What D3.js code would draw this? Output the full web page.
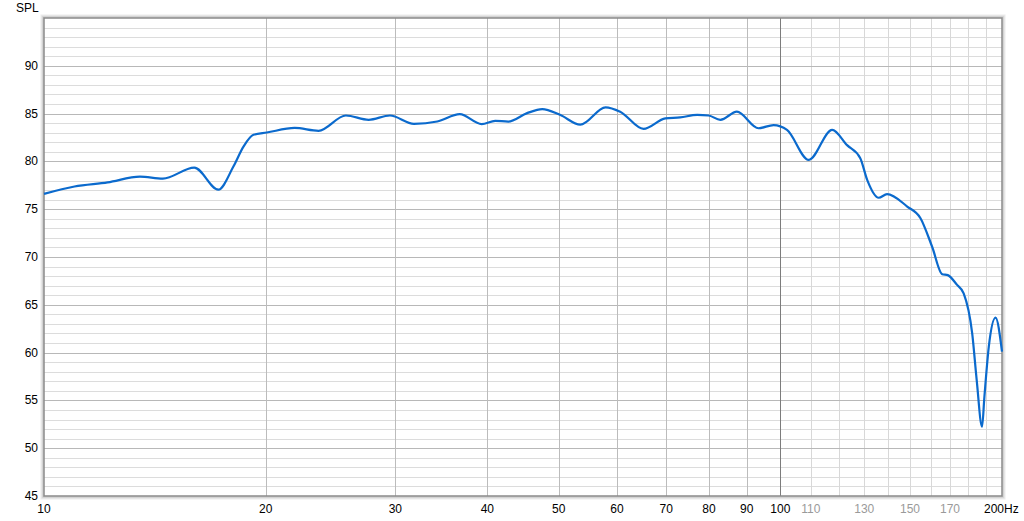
<!DOCTYPE html>
<html>
<head>
<meta charset="utf-8">
<script src="https://cdn.jsdelivr.net/npm/d3@7"></script>
<style>
  body { margin: 0; background: #fff; }
  svg { display: block; font-family: "Liberation Sans", Arial, sans-serif; font-size: 12px; }
</style>
</head>
<body>
<script>
const freq = [10, 11.0, 12.2, 13.5, 14.5, 16.0, 17.25, 18.08, 18.66, 19.25, 20.07, 21.9, 23.6, 25.7, 27.6, 29.5,
  31.8, 34.2, 36.7, 39.3, 41.0, 42.7, 45.3, 47.5, 50.2, 53.5, 57.9, 60.6, 65.2, 69.8, 73.1, 77.1,
  79.9, 82.9, 87.3, 93.4, 97.9, 102.1, 109.3, 117.6, 123.2, 128.4, 131.2, 136.0, 139.6, 148.7,
  155.0, 160.7, 165.9, 168.8, 173.8, 177.4, 182.2, 184.8, 187.9, 189.3, 191.9, 196.0, 200];
const spl = [76.6, 77.37, 77.8, 78.4, 78.2, 79.35, 77.05, 79.46, 81.55, 82.78, 83.02, 83.5, 83.2, 84.8, 84.35, 84.8,
  83.93, 84.17, 84.94, 83.9, 84.24, 84.17, 85.05, 85.47, 84.87, 83.85, 85.66, 85.2, 83.4, 84.5, 84.6, 84.87,
  84.8, 84.35, 85.2, 83.47, 83.8, 83.3, 80.16, 83.3, 81.7, 80.34, 78.07, 76.2, 76.57, 75.28,
  74.06, 71.1, 68.2, 68.1, 67.08, 66.2, 62.0, 57.1, 52.25, 55.4, 60.6, 63.66, 60.1];

const yLabels = [45, 50, 55, 60, 65, 70, 75, 80, 85, 90];
const xGridLow = [10, 20, 30, 40, 50, 60, 70, 80, 90];
const xGridHigh = [110, 120, 130, 140, 150, 160, 170, 180, 190];
const xLabelsDark = [10, 20, 30, 40, 50, 60, 70, 80, 90, 100];
const xLabelsGray = [110, 130, 150, 170];

// constants
const width = 1024;
const height = 521;
const margin = { left: 44, right: 22, top: 18, bottom: 25 };

const x = d3.scaleLog()
    .domain([10, 200])
    .range([margin.left, width - margin.right]);
const y = d3.scaleLinear()
    .domain([45, 95])
    .range([height - margin.bottom, margin.top]);

const svg = d3.select("body").append("svg")
    .attr("width", width)
    .attr("height", height);

const pw = width - margin.left - margin.right;
const ph = height - margin.top - margin.bottom;

// soft shadow round the frame
["#eeeeee", "#dddddd", "#c4c4c4"].forEach((c, i) => {
  const o = 3 - i;
  svg.append("rect")
      .attr("x", margin.left - o).attr("y", margin.top - o)
      .attr("width", pw + 2 * o).attr("height", ph + 2 * o)
      .style("fill", "none").style("stroke", c).style("stroke-width", 1.2);
});
svg.append("rect")
    .attr("x", margin.left).attr("y", margin.top)
    .attr("width", pw).attr("height", ph)
    .style("fill", "#fff");

// horizontal grid, 1 dB minor, 5 dB major
const grid = svg.append("g");
grid.selectAll(".hminor")
    .data(d3.range(46, 95).filter(d => d % 5 !== 0))
    .join("line")
    .attr("x1", margin.left).attr("x2", width - margin.right)
    .attr("y1", d => Math.round(y(d)) + 0.5).attr("y2", d => Math.round(y(d)) + 0.5)
    .style("stroke", "#dcdcdc");
grid.selectAll(".vhigh")
    .data(xGridHigh)
    .join("line")
    .attr("x1", d => Math.round(x(d)) + 0.5).attr("x2", d => Math.round(x(d)) + 0.5)
    .attr("y1", margin.top).attr("y2", height - margin.bottom)
    .style("stroke", "#d8d8d8");
grid.selectAll(".hmajor")
    .data(d3.range(50, 95, 5))
    .join("line")
    .attr("x1", margin.left).attr("x2", width - margin.right)
    .attr("y1", d => Math.round(y(d)) + 0.5).attr("y2", d => Math.round(y(d)) + 0.5)
    .style("stroke", "#b8b8b8");
grid.selectAll(".vlow")
    .data(xGridLow.slice(1))
    .join("line")
    .attr("x1", d => Math.round(x(d)) + 0.5).attr("x2", d => Math.round(x(d)) + 0.5)
    .attr("y1", margin.top).attr("y2", height - margin.bottom)
    .style("stroke", "#bcbcbc");
grid.append("line")
    .attr("x1", Math.round(x(100)) + 0.5).attr("x2", Math.round(x(100)) + 0.5)
    .attr("y1", margin.top).attr("y2", height - margin.bottom)
    .style("stroke", "#7c7c7c");

// frame
svg.append("rect")
    .attr("x", margin.left).attr("y", margin.top)
    .attr("width", pw).attr("height", ph)
    .style("fill", "none").style("stroke", "#8a8a8a").style("stroke-width", 1.5);

// response curve
const line = d3.line()
    .x(d => x(d[0]))
    .y(d => y(d[1]))
    .curve(d3.curveMonotoneX);

svg.append("path")
    .datum(d3.zip(freq, spl))
    .attr("d", line)
    .style("fill", "none")
    .style("stroke", "#0b6acd")
    .style("stroke-width", 2.2)
    .style("stroke-linejoin", "round");

// y labels
svg.selectAll(".ylab")
    .data(yLabels)
    .join("text")
    .attr("x", 38)
    .attr("y", d => y(d) + 4)
    .attr("text-anchor", "end")
    .style("fill", "#000")
    .text(d => d);
svg.append("text")
    .attr("x", 16).attr("y", 12)
    .text("SPL");

// x labels
svg.selectAll(".xlab")
    .data(xLabelsDark)
    .join("text")
    .attr("x", d => x(d))
    .attr("y", 513)
    .attr("text-anchor", "middle")
    .style("fill", "#000")
    .text(d => d);
svg.selectAll(".xlabg")
    .data(xLabelsGray)
    .join("text")
    .attr("x", d => x(d))
    .attr("y", 513)
    .attr("text-anchor", "middle")
    .style("fill", "#9a9a9a")
    .text(d => d);
svg.append("text")
    .attr("x", 984)
    .attr("y", 513)
    .text("200Hz");
</script>
</body>
</html>
